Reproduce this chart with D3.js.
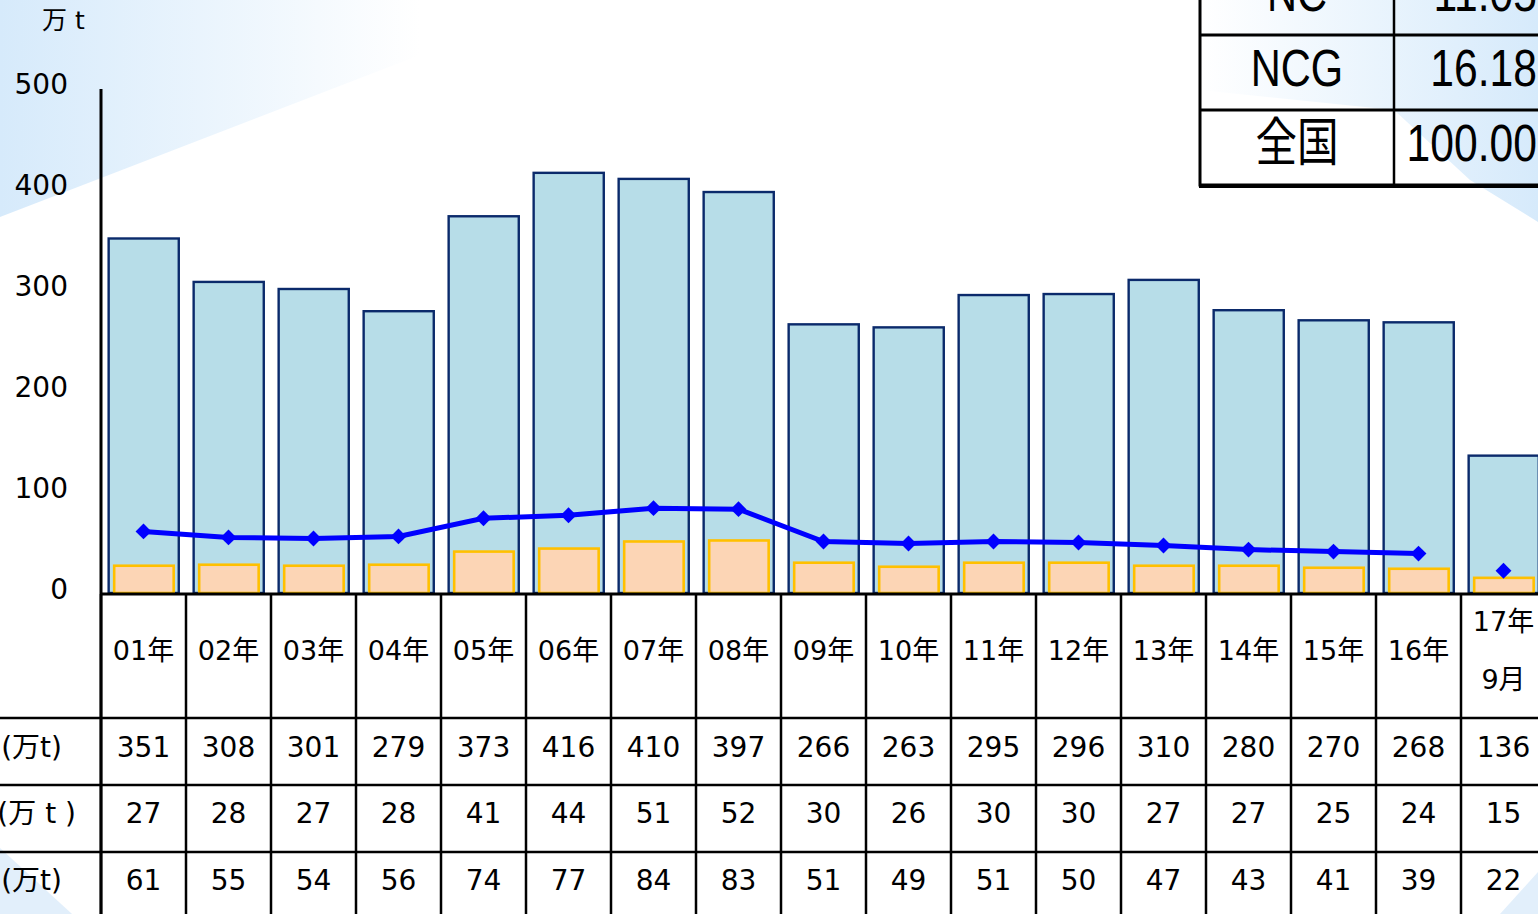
<!DOCTYPE html>
<html><head><meta charset="utf-8">
<script src="https://cdn.jsdelivr.net/npm/d3@7"></script>
<style>
html,body{margin:0;padding:0;background:#fff;overflow:hidden;}
svg{display:block;}
text{font-family:"DejaVu Sans","Noto Sans CJK JP",sans-serif;fill:#000;}
.narrow{font-family:"Liberation Sans","Noto Sans CJK JP",sans-serif;}
</style></head>
<body><svg id="c" width="1538" height="914"></svg>
<script>
const categories = ["01年","02年","03年","04年","05年","06年","07年","08年","09年","10年","11年","12年","13年","14年","15年","16年","17年\n9月"];
const totalValues = [351,308,301,279,373,416,410,397,266,263,295,296,310,280,270,268,136];
const orangeValues = [27,28,27,28,41,44,51,52,30,26,30,30,27,27,25,24,15];
const lineValues = [61,55,54,56,74,77,84,83,51,49,51,50,47,43,41,39,22];
const lineConnectedCount = 16;
const yTicks = [0,100,200,300,400,500];
const rowLabels = ["(万t)","(万 t )","(万t)"];
const insetRows = [["NC","11.05"],["NCG","16.18"],["全国","100.00"]];

const svg = d3.select("#c");
const W = 1538, H = 914;

// background gradients
const defs = svg.append("defs");
const g1 = defs.append("linearGradient").attr("id","bgL").attr("x1","0").attr("y1","0").attr("x2","1").attr("y2","0");
g1.append("stop").attr("offset","0").attr("stop-color","#d6eafb");
g1.append("stop").attr("offset","1").attr("stop-color","#ffffff");
const g2 = defs.append("linearGradient").attr("id","bgR").attr("x1","0").attr("y1","0").attr("x2","1").attr("y2","0");
g2.append("stop").attr("offset","0").attr("stop-color","#ffffff");
g2.append("stop").attr("offset","1").attr("stop-color","#d6eafb");
svg.append("path").attr("d","M0,0 L420,0 L420,55 L0,217 Z").attr("fill","url(#bgL)");
svg.append("path").attr("d","M1200,0 L1538,0 L1538,222 L1470,180 L1394,110 L1200,90 Z").attr("fill","url(#bgR)");
svg.append("path").attr("d","M0,848 L72,914 L0,914 Z").attr("fill","#e2effb");
svg.append("path").attr("d","M1538,872 L1500,914 L1538,914 Z").attr("fill","#e2effb");

const x = d3.scaleBand().domain(categories).range([101, 101 + 85*categories.length]).paddingInner(0).paddingOuter(0);
const y = d3.scaleLinear().domain([0,500]).range([593,88]);
const bw = x.bandwidth();

// y axis labels
svg.append("g").selectAll("text").data(yTicks).join("text")
  .attr("x",68).attr("y",d=>y(d)-4).attr("dy","0.35em").attr("text-anchor","end")
  .style("font-size","28px").text(d=>d);
svg.append("text").attr("x",42).attr("y",20).attr("dy","0.35em").style("font-size","25px").text("万 t");

// bars
svg.append("g").selectAll("rect").data(categories).join("rect")
  .attr("x",d=>x(d)+bw*0.09).attr("width",bw*0.825)
  .attr("y",(d,i)=>y(totalValues[i])).attr("height",(d,i)=>y(0)-y(totalValues[i]))
  .attr("fill","#b7dde8").attr("stroke","#0b2a6b").attr("stroke-width",2.4);
svg.append("g").selectAll("rect").data(categories).join("rect")
  .attr("x",d=>x(d)+bw*0.155).attr("width",bw*0.70)
  .attr("y",(d,i)=>y(orangeValues[i])).attr("height",(d,i)=>y(0)-y(orangeValues[i]))
  .attr("fill","#fcd5b5").attr("stroke","#ffc000").attr("stroke-width",2.6);

// line
const pts = categories.map((c,i)=>[x(c)+bw/2, y(lineValues[i])]);
svg.append("path").attr("d",d3.line()(pts.slice(0,lineConnectedCount)))
  .attr("fill","none").attr("stroke","#0000ff").attr("stroke-width",5);
svg.append("g").selectAll("path").data(pts).join("path")
  .attr("transform",d=>`translate(${d[0]},${d[1]})`)
  .attr("d",d3.symbol(d3.symbolDiamond2,160)).attr("fill","#0000ff");

// axes lines
svg.append("line").attr("x1",101).attr("x2",101).attr("y1",89).attr("y2",H).attr("stroke","#000").attr("stroke-width",3);
svg.append("line").attr("x1",101).attr("x2",W).attr("y1",594).attr("y2",594).attr("stroke","#000").attr("stroke-width",3);

// data table
const rowLines = [718,785,852];
svg.append("g").selectAll("line").data(rowLines).join("line")
  .attr("x1",0).attr("x2",W).attr("y1",d=>d).attr("y2",d=>d).attr("stroke","#000").attr("stroke-width",2.5);
const colEdges = d3.range(categories.length+1).map(i=> i<categories.length ? x(categories[i]) : x(categories[i-1])+bw);
svg.append("g").selectAll("line").data(colEdges).join("line")
  .attr("x1",d=>d).attr("x2",d=>d).attr("y1",594).attr("y2",H).attr("stroke","#000").attr("stroke-width",2.5);

// year labels
const yl = svg.append("g");
categories.forEach(c=>{
  const parts = c.split("\n");
  const cx = x(c)+bw/2;
  if(parts.length===1){
    yl.append("text").attr("x",cx).attr("y",651).attr("dy","0.35em").attr("text-anchor","middle").style("font-size","27px").text(parts[0]);
  } else {
    yl.append("text").attr("x",cx).attr("y",622).attr("dy","0.35em").attr("text-anchor","middle").style("font-size","27px").text(parts[0]);
    yl.append("text").attr("x",cx).attr("y",680).attr("dy","0.35em").attr("text-anchor","middle").style("font-size","27px").text(parts[1]);
  }
});
const rows = [totalValues, orangeValues, lineValues];
const rowCenters = [747,813,880];
rows.forEach((vals,r)=>{
  svg.append("g").selectAll("text").data(categories).join("text")
    .attr("x",d=>x(d)+bw/2).attr("y",rowCenters[r]).attr("dy","0.35em").attr("text-anchor","middle")
    .style("font-size","28px").text((d,i)=>vals[i]);
  svg.append("text").attr("x", r===1?76:62).attr("y",rowCenters[r]).attr("dy","0.35em").attr("text-anchor","end")
    .style("font-size","28px").text(rowLabels[r]);
});

// inset table
const inset = svg.append("g");
const insetTop = -40, insetRowH = 75, insetX0 = 1200, insetX1 = 1394;
inset.append("rect").attr("x",insetX0).attr("y",insetTop).attr("width",W-insetX0+10).attr("height",insetRowH*insetRows.length)
  .attr("fill","none").attr("stroke","#000").attr("stroke-width",3);
inset.append("line").attr("x1",insetX0-1).attr("x2",W).attr("y1",insetTop+insetRowH*3+1).attr("y2",insetTop+insetRowH*3+1).attr("stroke","#000").attr("stroke-width",4);
inset.append("line").attr("x1",insetX1).attr("x2",insetX1).attr("y1",0).attr("y2",insetTop+insetRowH*3).attr("stroke","#000").attr("stroke-width",2.5);
insetRows.forEach((r,i)=>{
  const yy = insetTop + insetRowH*(i+1);
  if(i<insetRows.length-1) inset.append("line").attr("x1",insetX0).attr("x2",W).attr("y1",yy).attr("y2",yy).attr("stroke","#000").attr("stroke-width",3);
  const cy = insetTop + insetRowH*i + insetRowH/2 - 5;
  inset.append("g").attr("transform",`translate(${(insetX0+insetX1)/2},${cy}) scale(0.8,1)`)
    .append("text").attr("class","narrow").attr("dy","0.36em")
    .attr("text-anchor","middle").style("font-size","52px").text(r[0]);
  inset.append("g").attr("transform",`translate(1537,${cy}) scale(0.82,1)`)
    .append("text").attr("class","narrow").attr("dy","0.36em")
    .attr("text-anchor","end").style("font-size","52px").text(r[1]);
});
</script></body></html>
